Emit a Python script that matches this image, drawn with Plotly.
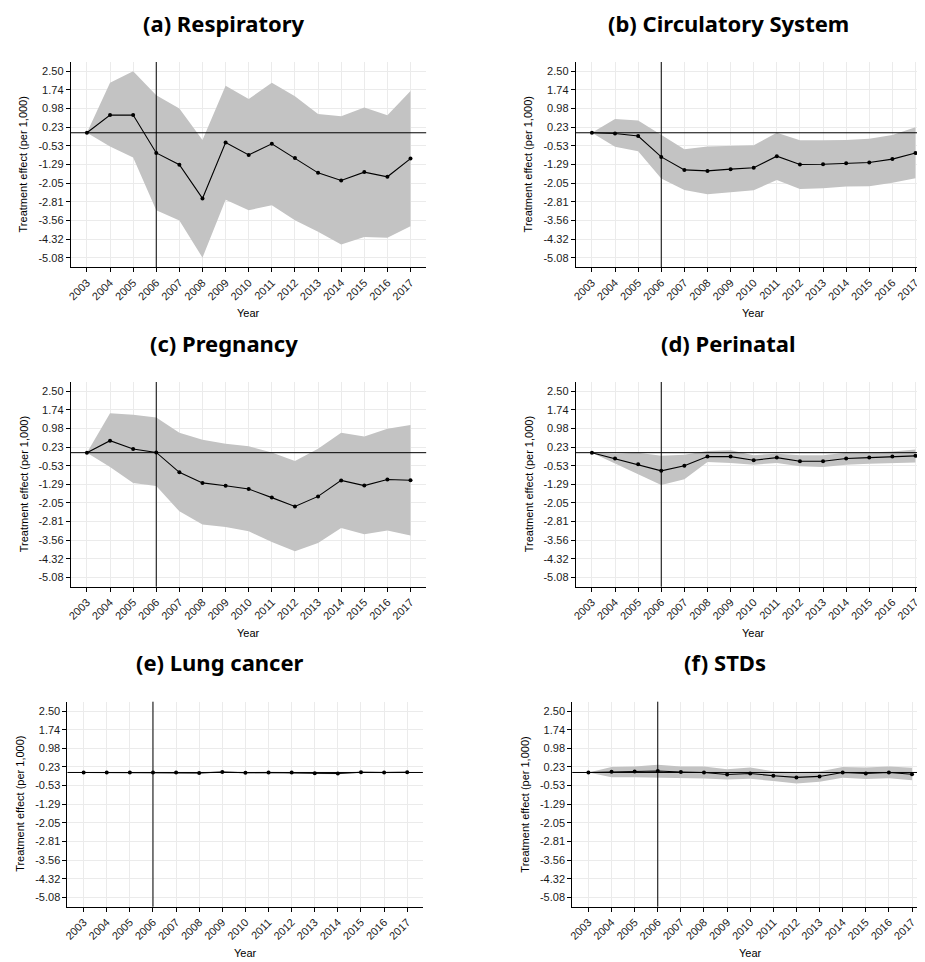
import plotly.graph_objects as go

years = [2003, 2004, 2005, 2006, 2007, 2008, 2009, 2010, 2011, 2012, 2013, 2014, 2015, 2016, 2017]

ytick_vals = [2.50, 1.742, 0.984, 0.226, -0.532, -1.290, -2.048, -2.806, -3.564, -4.322, -5.080]
ytick_text = ["2.50", "1.74", "0.98", "0.23", "-0.53", "-1.29", "-2.05", "-2.81", "-3.56", "-4.32", "-5.08"]

titles = ["(a) Respiratory", "(b) Circulatory System", "(c) Pregnancy",
          "(d) Perinatal", "(e) Lung cancer", "(f) STDs"]

resp_est = [0, 0.72, 0.72, -0.82, -1.30, -2.67, -0.40, -0.90, -0.45, -1.03, -1.63, -1.94, -1.60, -1.79, -1.05]
resp_hi = [0, 2.03, 2.50, 1.53, 0.99, -0.29, 1.91, 1.37, 2.04, 1.49, 0.76, 0.67, 1.03, 0.71, 1.70]
resp_lo = [0, -0.56, -1.01, -3.15, -3.57, -5.08, -2.72, -3.15, -2.95, -3.56, -4.03, -4.54, -4.24, -4.27, -3.80]

circ_est = [0, -0.03, -0.13, -0.98, -1.51, -1.55, -1.48, -1.42, -0.95, -1.29, -1.28, -1.24, -1.21, -1.07, -0.82]
circ_hi = [0, 0.56, 0.50, -0.10, -0.67, -0.56, -0.53, -0.51, 0.00, -0.30, -0.30, -0.29, -0.24, -0.09, 0.22]
circ_lo = [0, -0.57, -0.75, -1.86, -2.33, -2.50, -2.42, -2.34, -1.92, -2.29, -2.26, -2.18, -2.17, -2.03, -1.85]

preg_est = [0, 0.49, 0.15, 0.01, -0.80, -1.23, -1.35, -1.48, -1.83, -2.19, -1.78, -1.13, -1.34, -1.09, -1.12]
preg_hi = [0, 1.61, 1.54, 1.43, 0.81, 0.53, 0.36, 0.26, 0.01, -0.34, 0.16, 0.81, 0.66, 0.97, 1.13]
preg_lo = [0, -0.58, -1.24, -1.36, -2.39, -2.93, -3.03, -3.20, -3.64, -4.01, -3.68, -3.07, -3.32, -3.17, -3.37]

peri_est = [0, -0.24, -0.47, -0.74, -0.53, -0.16, -0.16, -0.31, -0.20, -0.35, -0.35, -0.24, -0.20, -0.16, -0.13]
peri_hi = [0, -0.04, 0.00, -0.12, -0.08, 0.07, 0.10, -0.10, -0.04, -0.10, -0.10, 0.00, 0.01, 0.05, 0.13]
peri_lo = [0, -0.45, -0.88, -1.32, -1.08, -0.38, -0.42, -0.49, -0.42, -0.55, -0.58, -0.49, -0.45, -0.42, -0.40]

lung_est = [0, 0, 0, 0, 0, -0.02, 0.02, -0.01, 0, 0, -0.03, -0.04, 0.01, 0, 0.01]
lung_hi = [0, 0.02, 0.02, 0.02, 0.02, 0.01, 0.05, 0.02, 0.03, 0.03, 0.00, -0.01, 0.04, 0.03, 0.04]
lung_lo = [0, -0.02, -0.02, -0.02, -0.02, -0.05, -0.01, -0.04, -0.03, -0.03, -0.06, -0.07, -0.02, -0.03, -0.02]

std_est = [0, 0.03, 0.04, 0.06, 0.02, 0.00, -0.08, -0.04, -0.13, -0.20, -0.16, 0.00, -0.04, 0.00, -0.07]
std_hi = [0, 0.22, 0.24, 0.31, 0.24, 0.24, 0.13, 0.20, 0.05, 0.02, 0.04, 0.22, 0.20, 0.24, 0.19]
std_lo = [0, -0.19, -0.19, -0.20, -0.21, -0.24, -0.29, -0.25, -0.35, -0.45, -0.38, -0.21, -0.27, -0.23, -0.32]

series = [(resp_est, resp_lo, resp_hi), (circ_est, circ_lo, circ_hi), (preg_est, preg_lo, preg_hi),
          (peri_est, peri_lo, peri_hi), (lung_est, lung_lo, lung_hi), (std_est, std_lo, std_hi)]

# page body has an 8px margin: the figure is drawn 8px right/down of the window corner
OFF = 8.0
W, H = 925 - int(OFF), 962 - int(OFF)
PXY = 325 / 14.0  # pixels per year

# layout in window pixels: (left, right, top, bottom, title center x, title center y)
boxes = [
    (67.0, 424.0, 62.0, 267.0, 220.5, 23.5),
    (574.2, 925.0, 62.0, 267.0, 727.8, 23.5),
    (67.0, 424.0, 382.0, 586.7, 220.5, 343.0),
    (574.2, 925.0, 382.0, 586.7, 727.3, 343.0),
    (63.7, 420.7, 701.7, 906.7, 217.0, 661.5),
    (570.7, 925.0, 701.7, 906.7, 724.5, 661.5),
]


def px(v):
    return (v - OFF) / W


def py(v):
    return 1 - (v - OFF) / H


YR = [-5.459, 2.879]
X0 = 2002.3

fig = go.Figure()
annotations = []
shapes = []
layout = {}

for i, ((est, lo, hi), (l, r, t, b, tx, ty)) in enumerate(zip(series, boxes)):
    n = "" if i == 0 else str(i + 1)
    xa, ya = "x" + n, "y" + n
    x1 = X0 + (r - l) / PXY
    fig.add_trace(go.Scatter(x=years, y=lo, xaxis=xa, yaxis=ya, mode="lines",
                             line=dict(width=0, color="rgba(0,0,0,0)"), showlegend=False, hoverinfo="skip"))
    fig.add_trace(go.Scatter(x=years, y=hi, xaxis=xa, yaxis=ya, mode="lines", fill="tonexty",
                             fillcolor="#C3C3C3", line=dict(width=0, color="rgba(0,0,0,0)"),
                             showlegend=False, hoverinfo="skip"))
    fig.add_trace(go.Scatter(x=years, y=est, xaxis=xa, yaxis=ya, mode="lines+markers",
                             line=dict(color="black", width=1.1),
                             marker=dict(color="black", size=4), showlegend=False))
    layout["xaxis" + n] = dict(
        domain=[px(l), min(px(r), 1.0)], range=[X0, x1], anchor=ya,
        tickvals=years, ticktext=[str(v) for v in years], tickangle=-45,
        showgrid=True, gridcolor="#EBEBEB", gridwidth=1, zeroline=False,
        showline=True, linecolor="black", linewidth=1,
        ticks="outside", ticklen=4, tickwidth=1, tickcolor="black",
        tickfont=dict(family="Liberation Sans, Arial", size=11, color="#1a1a1a"),
    )
    layout["yaxis" + n] = dict(
        domain=[py(b), py(t)], range=YR, anchor=xa,
        tickvals=ytick_vals, ticktext=ytick_text,
        showgrid=True, gridcolor="#EBEBEB", gridwidth=1, zeroline=False,
        showline=True, linecolor="black", linewidth=1,
        ticks="outside", ticklen=4, tickwidth=1, tickcolor="black",
        tickfont=dict(family="Liberation Sans, Arial", size=11, color="#1a1a1a"),
    )
    shapes.append(dict(type="line", xref=xa + " domain", yref=ya, x0=0, x1=1, y0=0, y1=0,
                       line=dict(color="black", width=1), layer="above"))
    shapes.append(dict(type="line", xref=xa, yref=ya + " domain", x0=2006, x1=2006, y0=0, y1=1,
                       line=dict(color="black", width=1), layer="above"))
    annotations.append(dict(text="<b>%s</b>" % titles[i], x=px(tx), y=py(ty), xref="paper", yref="paper",
                            xanchor="center", yanchor="middle", showarrow=False, borderpad=0,
                            font=dict(family="Noto Sans", size=22, color="black")))
    annotations.append(dict(text="Year", x=px(l + (2010 - X0) * PXY),
                            y=py(b + 46.5), xref="paper", yref="paper",
                            xanchor="center", yanchor="middle", showarrow=False,
                            font=dict(family="Liberation Sans, Arial", size=11, color="black")))
    annotations.append(dict(text="Treatment effect (per 1,000)", x=px(l - 47), y=py((t + b) / 2),
                            xref="paper", yref="paper", textangle=-90,
                            xanchor="center", yanchor="middle", showarrow=False,
                            font=dict(family="Liberation Sans, Arial", size=11, color="black")))

fig.update_layout(width=W, height=H, margin=dict(l=0, r=0, t=0, b=0),
                  paper_bgcolor="white", plot_bgcolor="white",
                  annotations=annotations, shapes=shapes, **layout)

fig.write_html("out.html")
